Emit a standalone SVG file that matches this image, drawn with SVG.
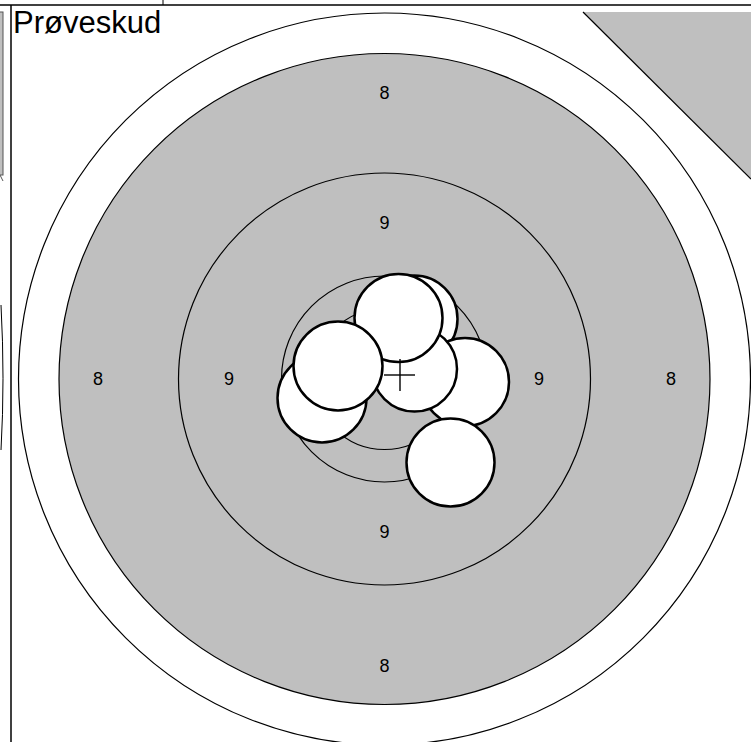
<svg xmlns="http://www.w3.org/2000/svg" width="751" height="742" viewBox="0 0 751 742">
<style>
.ring{stroke:#000;stroke-width:1.2}
.lbl{font-family:"Liberation Sans",Arial,sans-serif;font-size:18px;fill:#000;text-anchor:middle;dominant-baseline:central}
.shot{fill:#fff;stroke:#000;stroke-width:2.5}
</style>
<rect width="751" height="742" fill="#fff"/>
<g id="frame">
<rect x="-2" y="12" width="5" height="163" fill="#bfbfbf" stroke="#555" stroke-width="1"/>
<line x1="0" y1="175" x2="3" y2="181" stroke="#555" stroke-width="1"/>
<path d="M1,305 Q5,379 1,450" fill="none" stroke="#000" stroke-width="1"/>
<polygon points="583,12 751,12 751,179" fill="#bfbfbf"/>
<line x1="583" y1="12" x2="751" y2="179" stroke="#000" stroke-width="1.2"/>
<line x1="0" y1="5" x2="751" y2="5" stroke="#000" stroke-width="1.5"/>
<line x1="163" y1="0" x2="163" y2="5" stroke="#000" stroke-width="1"/>
<line x1="11" y1="5" x2="11" y2="742" stroke="#000" stroke-width="1.5"/>
<text x="13" y="33" font-family="'Liberation Sans',Arial,sans-serif" font-size="31" fill="#000">Prøveskud</text>
</g>
<g id="target">
<circle cx="384.5" cy="379" r="366" fill="#fff" class="ring"/>
<circle cx="384.5" cy="379" r="325.5" fill="#bfbfbf" class="ring"/>
<circle cx="384.5" cy="379" r="206" fill="none" class="ring"/>
<circle cx="384.5" cy="379" r="103" fill="none" class="ring"/>
<circle cx="384.5" cy="379" r="70.5" fill="none" class="ring"/>
</g>
<g id="labels">
<text class="lbl" x="384.5" y="93">8</text>
<text class="lbl" x="98" y="379">8</text>
<text class="lbl" x="671" y="379">8</text>
<text class="lbl" x="384.5" y="666">8</text>
<text class="lbl" x="384.5" y="223">9</text>
<text class="lbl" x="229" y="379">9</text>
<text class="lbl" x="539" y="379">9</text>
<text class="lbl" x="384.5" y="532">9</text>
</g>
<g id="shots">
<circle class="shot" cx="414" cy="319" r="43.5"/>
<circle class="shot" cx="465" cy="382" r="44"/>
<circle class="shot" cx="414.5" cy="369" r="42.5"/>
<circle class="shot" cx="398.5" cy="318" r="44"/>
<circle class="shot" cx="322" cy="398" r="44.5"/>
<circle class="shot" cx="338" cy="366" r="44.5"/>
<circle class="shot" cx="450.5" cy="462.5" r="44"/>
</g>
<g id="cross" stroke="#000" stroke-width="1.4">
<line x1="384" y1="375" x2="415" y2="375"/>
<line x1="400" y1="359" x2="400" y2="391"/>
</g>
</svg>
